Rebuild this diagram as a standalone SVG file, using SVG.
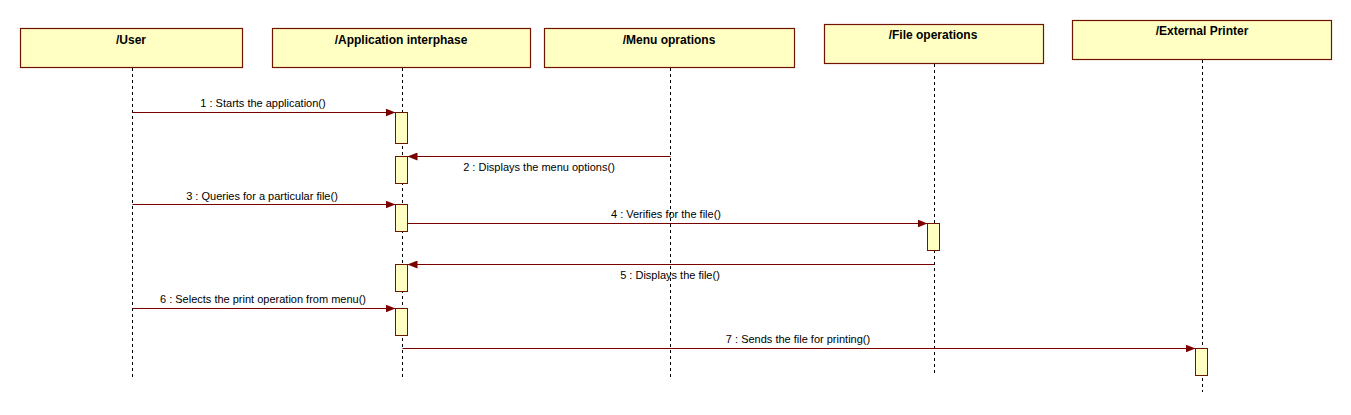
<svg xmlns="http://www.w3.org/2000/svg" width="1351" height="415" viewBox="0 0 1351 415">
<style>
.box{fill:#ffffc4;stroke:#6e1400;stroke-width:1.2}
.act{fill:#ffffc4;stroke:#6e1400;stroke-width:1}
.title{font-family:"Liberation Sans",Arial,sans-serif;font-size:12px;font-weight:bold;fill:#000;text-anchor:middle}
.life{stroke:#000;stroke-width:1;stroke-dasharray:3,3;fill:none}
.msg{stroke:#7a0000;stroke-width:1.2;fill:none;marker-end:url(#ah)}
.lbl{font-family:"Liberation Sans",Arial,sans-serif;font-size:11px;fill:#000;text-anchor:middle}
</style>
<defs>
<marker id="ah" viewBox="0 0 10 8" refX="10" refY="4" markerWidth="10" markerHeight="8" markerUnits="userSpaceOnUse" orient="auto">
<path d="M0,0 L10,4 L0,8 Z" fill="#7a0000"/>
</marker>
</defs>
<rect width="1351" height="415" fill="#fff"/>
<g id="user">
<rect class="box" x="20.5" y="28.5" width="222" height="39"/>
<text class="title" x="131" y="44">/User</text>
<line class="life" x1="132.5" y1="68" x2="132.5" y2="378"/>
</g>
<g id="app">
<rect class="box" x="272.5" y="28.5" width="258" height="39"/>
<text class="title" x="401" y="44">/Application interphase</text>
<line class="life" x1="402.5" y1="68" x2="402.5" y2="378"/>
<rect class="act" x="395.5" y="112.5" width="12" height="31"/>
<rect class="act" x="395.5" y="156.5" width="12" height="27"/>
<rect class="act" x="395.5" y="204.5" width="12" height="27"/>
<rect class="act" x="395.5" y="264.5" width="12" height="27"/>
<rect class="act" x="395.5" y="308.5" width="12" height="27"/>
</g>
<g id="menu">
<rect class="box" x="544.5" y="28.5" width="250" height="39"/>
<text class="title" x="669" y="44">/Menu oprations</text>
<line class="life" x1="670.5" y1="68" x2="670.5" y2="378"/>
</g>
<g id="file">
<rect class="box" x="824.5" y="24.5" width="219" height="39"/>
<text class="title" x="933" y="39">/File operations</text>
<line class="life" x1="934.5" y1="64" x2="934.5" y2="374"/>
<rect class="act" x="927.5" y="223.5" width="12" height="27"/>
</g>
<g id="printer">
<rect class="box" x="1072.5" y="20.5" width="259" height="39"/>
<text class="title" x="1202" y="35">/External Printer</text>
<line class="life" x1="1202.5" y1="60" x2="1202.5" y2="392"/>
<rect class="act" x="1195.5" y="348.5" width="12" height="27"/>
</g>
<g id="connectors">
<line class="msg" x1="132.5" y1="112.5" x2="395.5" y2="112.5"/>
<text class="lbl" x="263" y="107">1 : Starts the application()</text>
<line class="msg" x1="670.5" y1="156.5" x2="407.5" y2="156.5"/>
<text class="lbl" x="539" y="171">2 : Displays the menu options()</text>
<line class="msg" x1="132.5" y1="204.5" x2="395.5" y2="204.5"/>
<text class="lbl" x="262" y="200">3 : Queries for a particular file()</text>
<line class="msg" x1="407.5" y1="223.5" x2="927.5" y2="223.5"/>
<text class="lbl" x="666" y="218">4 : Verifies for the file()</text>
<line class="msg" x1="934.5" y1="264.5" x2="407.5" y2="264.5"/>
<text class="lbl" x="670" y="279">5 : Displays the file()</text>
<line class="msg" x1="132.5" y1="308.5" x2="395.5" y2="308.5"/>
<text class="lbl" x="263" y="303">6 : Selects the print operation from menu()</text>
<line class="msg" x1="402.5" y1="348.5" x2="1195.5" y2="348.5"/>
<text class="lbl" x="798" y="343">7 : Sends the file for printing()</text>
</g>
</svg>
